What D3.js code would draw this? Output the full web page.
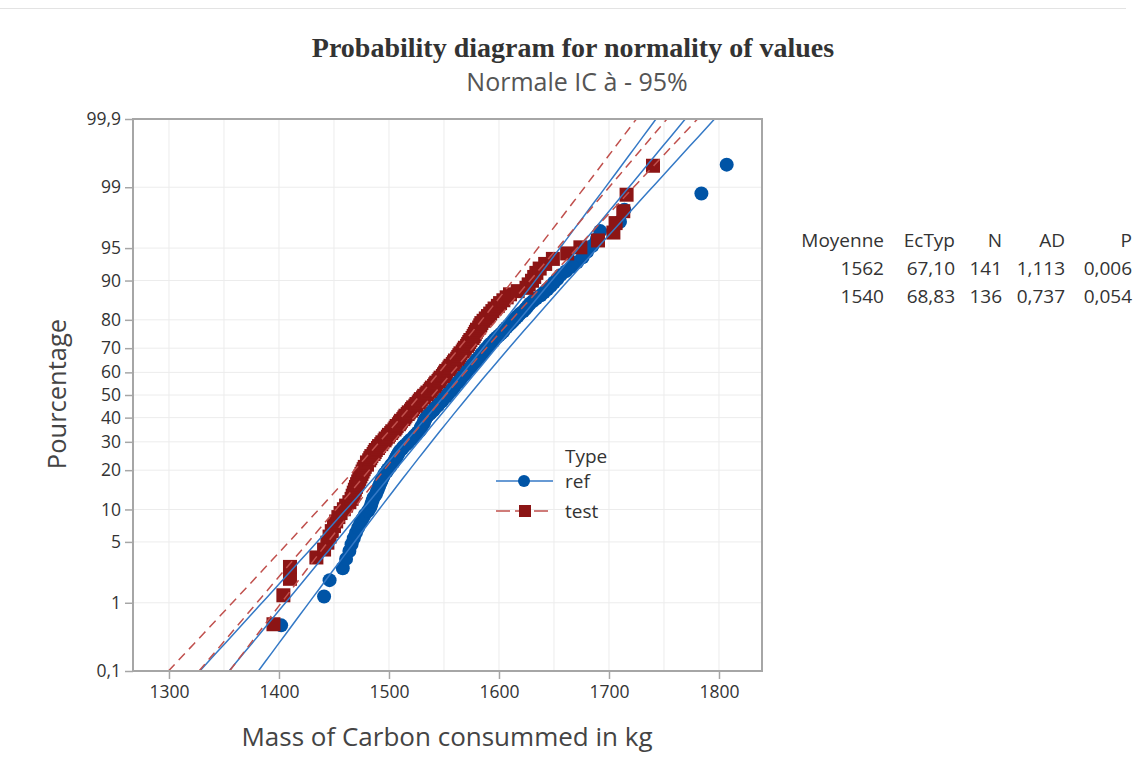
<!DOCTYPE html>
<html>
<head>
<meta charset="utf-8">
<script src="https://cdn.jsdelivr.net/npm/d3@7"></script>
<style>
  body { margin: 0; background: #fff; }
  text { font-family: "Open Sans", "Noto Sans", sans-serif; }
</style>
</head>
<body>
<div id="chart"></div>
<script>
// data (sorted values, kg)
var refValues = [1402, 1441, 1446, 1458, 1461, 1464, 1466, 1468, 1470, 1472,
  1474, 1476, 1478, 1481, 1483, 1484, 1485, 1486, 1488, 1489,
  1490, 1491, 1492, 1493, 1494, 1495, 1496, 1498, 1499, 1501,
  1502, 1504, 1505, 1506, 1507, 1508, 1509, 1510, 1512, 1513,
  1515, 1517, 1518, 1520, 1522, 1523, 1525, 1526, 1528, 1529,
  1529, 1530, 1531, 1532, 1532, 1533, 1534, 1535, 1537, 1538,
  1540, 1541, 1542, 1544, 1545, 1546, 1548, 1549, 1550, 1552,
  1553, 1554, 1555, 1557, 1558, 1559, 1560, 1561, 1563, 1564,
  1565, 1566, 1567, 1569, 1570, 1571, 1572, 1574, 1575, 1576,
  1578, 1579, 1580, 1582, 1583, 1584, 1586, 1587, 1588, 1590,
  1591, 1593, 1595, 1596, 1598, 1600, 1602, 1604, 1605, 1607,
  1609, 1611, 1613, 1615, 1617, 1619, 1622, 1624, 1626, 1628,
  1631, 1634, 1638, 1641, 1644, 1647, 1650, 1653, 1656, 1661,
  1666, 1671, 1676, 1680, 1685, 1689, 1692, 1710, 1714, 1784, 1807];

var testValues = [1395, 1404, 1410, 1410, 1434, 1441, 1444, 1446, 1448, 1450,
  1452, 1454, 1456, 1459, 1461, 1464, 1466, 1467, 1468, 1469,
  1470, 1471, 1472, 1473, 1474, 1475, 1476, 1477, 1478, 1480,
  1480, 1482, 1483, 1484, 1486, 1487, 1488, 1490, 1491, 1493,
  1494, 1496, 1497, 1499, 1500, 1502, 1503, 1505, 1506, 1507,
  1509, 1510, 1511, 1513, 1514, 1515, 1517, 1518, 1520, 1521,
  1522, 1524, 1525, 1527, 1528, 1529, 1531, 1532, 1534, 1535,
  1537, 1538, 1539, 1541, 1542, 1543, 1545, 1546, 1547, 1549,
  1550, 1551, 1552, 1554, 1555, 1556, 1558, 1559, 1560, 1562,
  1563, 1564, 1565, 1567, 1568, 1569, 1571, 1572, 1573, 1574,
  1576, 1577, 1578, 1579, 1580, 1582, 1583, 1584, 1586, 1588,
  1590, 1592, 1594, 1596, 1599, 1601, 1604, 1607, 1610, 1617,
  1625, 1627, 1630, 1632, 1634, 1637, 1642, 1649, 1662, 1674,
  1690, 1704, 1706, 1713, 1716, 1740];

var seriesNames = ["ref", "test"];
var seriesMeans = [1562, 1540];
var seriesSds = [67.10, 68.83];
var seriesN = [141, 136];

var statHeaders = ["Moyenne", "EcTyp", "N", "AD", "P"];
var refStats = ["1562", "67,10", "141", "1,113", "0,006"];
var testStats = ["1540", "68,83", "136", "0,737", "0,054"];

var percentTicks = [0.1, 1, 5, 10, 20, 30, 40, 50, 60, 70, 80, 90, 95, 99, 99.9];
var xTicks = [1300, 1400, 1500, 1600, 1700, 1800];
var xGrid = [1300, 1350, 1400, 1450, 1500, 1550, 1600, 1650, 1700, 1750, 1800];

// svg params
var svgWidth = 1144;
var svgHeight = 763;
var plot = { left: 133, top: 119, right: 762, bottom: 671 };

var blue = "#0054a6";
var red = "#8c1515";
var blueLine = "#3479c6";
var redLine = "#c0504d";

// inverse normal cdf (Acklam)
function qnorm(p) {
  var a = [-39.69683028665376, 220.9460984245205, -275.9285104469687, 138.3577518672690, -30.66479806614716, 2.506628277459239];
  var b = [-54.47609879822406, 161.5858368580409, -155.6989798598866, 66.80131188771972, -13.28068155288572];
  var c = [-0.007784894002430293, -0.3223964580411365, -2.400758277161838, -2.549732539343734, 4.374664141464968, 2.938163982698783];
  var d = [0.007784695709041462, 0.3224671290700398, 2.445134137142996, 3.754408661907416];
  var q, r;
  if (p < 0.02425) {
    q = Math.sqrt(-2 * Math.log(p));
    return (((((c[0]*q+c[1])*q+c[2])*q+c[3])*q+c[4])*q+c[5]) / ((((d[0]*q+d[1])*q+d[2])*q+d[3])*q+1);
  } else if (p <= 1 - 0.02425) {
    q = p - 0.5; r = q * q;
    return (((((a[0]*r+a[1])*r+a[2])*r+a[3])*r+a[4])*r+a[5])*q / (((((b[0]*r+b[1])*r+b[2])*r+b[3])*r+b[4])*r+1);
  }
  q = Math.sqrt(-2 * Math.log(1 - p));
  return -(((((c[0]*q+c[1])*q+c[2])*q+c[3])*q+c[4])*q+c[5]) / ((((d[0]*q+d[1])*q+d[2])*q+d[3])*q+1);
}

var $svg = d3.select("#chart").append("svg")
  .attr("width", svgWidth)
  .attr("height", svgHeight);

// faint frame line at top of the screenshot
$svg.append("line")
  .attr("x1", 0).attr("x2", 1126).attr("y1", 8.5).attr("y2", 8.5)
  .attr("stroke", "#e3e3e3");

var zMax = qnorm(0.999);
var xScale = d3.scaleLinear().domain([1267.3, 1839.1]).range([plot.left, plot.right]);
var yScale = d3.scaleLinear().domain([-zMax, zMax]).range([plot.bottom, plot.top]);

// grid
var grid = $svg.append("g");
grid.selectAll("line.gx").data(xGrid).enter().append("line")
  .attr("x1", d => xScale(d)).attr("x2", d => xScale(d))
  .attr("y1", plot.top).attr("y2", plot.bottom)
  .attr("stroke", "#ececec").attr("stroke-width", 1);
grid.selectAll("line.gy").data(percentTicks).enter().append("line")
  .attr("x1", plot.left).attr("x2", plot.right)
  .attr("y1", d => yScale(qnorm(d / 100))).attr("y2", d => yScale(qnorm(d / 100)))
  .attr("stroke", "#ececec").attr("stroke-width", 1);

// clip for the plot area
$svg.append("clipPath").attr("id", "plotClip").append("rect")
  .attr("x", plot.left).attr("y", plot.top)
  .attr("width", plot.right - plot.left).attr("height", plot.bottom - plot.top);

var chartGroup = $svg.append("g").attr("clip-path", "url(#plotClip)");

// points, median rank plotting positions
function positions(values) {
  var n = values.length;
  return values.map((v, i) => ({ x: v, z: qnorm((i + 1 - 0.3) / (n + 0.4)) }));
}

chartGroup.selectAll("circle.ref").data(positions(refValues)).enter().append("circle")
  .attr("cx", d => xScale(d.x)).attr("cy", d => yScale(d.z))
  .attr("r", 7).attr("fill", blue);

chartGroup.selectAll("rect.test").data(positions(testValues)).enter().append("rect")
  .attr("x", d => xScale(d.x) - 7).attr("y", d => yScale(d.z) - 7)
  .attr("width", 14).attr("height", 14).attr("fill", red);

// fitted lines and 95% confidence bands
var zSteps = d3.range(0, 61).map(k => -zMax + k * (2 * zMax / 60));
var lineGen = d3.line().x(d => xScale(d[0])).y(d => yScale(d[1]));

seriesNames.forEach(function(name, s) {
  var m = seriesMeans[s], sd = seriesSds[s], n = seriesN[s];
  var color = s === 0 ? blueLine : redLine;
  var dash = s === 0 ? null : "9,6";
  var fit = zSteps.map(z => [m + sd * z, z]);
  var lo = zSteps.map(z => [m + sd * z - 1.96 * sd / Math.sqrt(n) * Math.sqrt(1 + z * z / 2), z]);
  var hi = zSteps.map(z => [m + sd * z + 1.96 * sd / Math.sqrt(n) * Math.sqrt(1 + z * z / 2), z]);
  [fit, lo, hi].forEach(function(pts) {
    chartGroup.append("path")
      .attr("d", lineGen(pts))
      .attr("fill", "none")
      .attr("stroke", color)
      .attr("stroke-width", 1.5)
      .attr("stroke-dasharray", dash);
  });
});

// frame
$svg.append("rect")
  .attr("x", plot.left).attr("y", plot.top)
  .attr("width", plot.right - plot.left).attr("height", plot.bottom - plot.top)
  .attr("fill", "none").attr("stroke", "#a6a6a6").attr("stroke-width", 2);

// axes
var xAxis = d3.axisBottom(xScale).tickValues(xTicks).tickSize(8).tickPadding(7).tickFormat(d3.format("d"));
var yAxis = d3.axisLeft(yScale)
  .tickValues(percentTicks.map(p => qnorm(p / 100)))
  .tickSize(8).tickPadding(4)
  .tickFormat((d, i) => String(percentTicks[i]).replace(".", ","));

var gx = $svg.append("g").attr("transform", `translate(0, ${plot.bottom})`).call(xAxis);
var gy = $svg.append("g").attr("transform", `translate(${plot.left}, 0)`).call(yAxis);
[gx, gy].forEach(function(g) {
  g.select(".domain").remove();
  g.selectAll("line").attr("stroke", "#a6a6a6").attr("stroke-width", 1.5);
  g.selectAll("text").attr("fill", "#333").style("font-size", "17.5px")
    .style("font-family", "\"Open Sans\", sans-serif");
});

// titles
$svg.append("text")
  .attr("x", 573).attr("y", 57)
  .attr("text-anchor", "middle")
  .style("font-family", "\"Liberation Serif\", serif")
  .style("font-weight", "bold")
  .style("font-size", "28px")
  .attr("fill", "#333")
  .text("Probability diagram for normality of values");

$svg.append("text")
  .attr("x", 577).attr("y", 91)
  .attr("text-anchor", "middle")
  .style("font-size", "25px")
  .attr("fill", "#555")
  .text("Normale IC à - 95%");

$svg.append("text")
  .attr("x", 447).attr("y", 746)
  .attr("text-anchor", "middle")
  .style("font-size", "26px")
  .attr("fill", "#444")
  .text("Mass of Carbon consummed in kg");

$svg.append("text")
  .attr("transform", "translate(66, 394) rotate(-90)")
  .attr("text-anchor", "middle")
  .style("font-size", "25.5px")
  .attr("fill", "#444")
  .text("Pourcentage");

// legend
var legend = $svg.append("g");
legend.append("text").attr("x", 565).attr("y", 463)
  .style("font-size", "19px").attr("fill", "#333").text("Type");
seriesNames.forEach(function(name, s) {
  var ly = 481 + s * 30;
  legend.append("line")
    .attr("x1", 496).attr("x2", 553).attr("y1", ly).attr("y2", ly)
    .attr("stroke", s === 0 ? blueLine : redLine).attr("stroke-width", 1.5)
    .attr("stroke-dasharray", s === 0 ? null : "14,5");
  if (s === 0) {
    legend.append("circle").attr("cx", 524).attr("cy", ly).attr("r", 6).attr("fill", blue);
  } else {
    legend.append("rect").attr("x", 519).attr("y", ly - 6).attr("width", 12).attr("height", 12).attr("fill", red);
  }
  legend.append("text").attr("x", 565).attr("y", ly + 7)
    .style("font-size", "19px").attr("fill", "#333").text(name);
});

// stats table
var colRight = [884, 955, 1002, 1065, 1132];
var table = $svg.append("g").attr("fill", "#333").style("font-size", "19px");
[statHeaders, refStats, testStats].forEach(function(row, r) {
  row.forEach(function(cell, c) {
    table.append("text")
      .attr("x", colRight[c]).attr("y", 247 + r * 28)
      .attr("text-anchor", "end")
      .text(cell);
  });
});
</script>
</body>
</html>
